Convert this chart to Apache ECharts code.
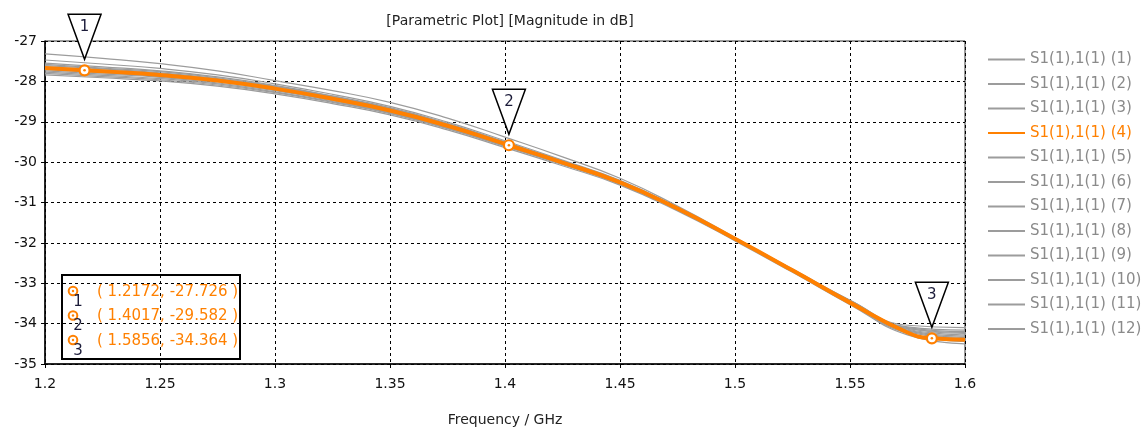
<!DOCTYPE html>
<html>
<head>
<meta charset="utf-8">
<script src="https://cdn.jsdelivr.net/npm/echarts@6/dist/echarts.min.js"></script>
<style>
  html, body { margin: 0; padding: 0; background: #fff; }
  #chart { width: 1148px; height: 432px; }
</style>
</head>
<body>
<div id="chart"></div>
<script>
// Frequency samples (GHz) shared by all sweep curves
const freq = [1.200, 1.225, 1.250, 1.275, 1.300, 1.325, 1.350, 1.375, 1.400,
              1.425, 1.450, 1.475, 1.500, 1.525, 1.550, 1.575, 1.600];

// S1(1),1(1) magnitude in dB for each parameter run
const s1  = [-27.32,-27.43,-27.56,-27.74,-27.98,-28.23,-28.52,-28.91,-29.38,-29.87,-30.40,-31.09,-31.87,-32.66,-33.42,-34.04,-34.10];
const s2  = [-27.47,-27.57,-27.68,-27.84,-28.06,-28.32,-28.62,-29.01,-29.47,-29.95,-30.45,-31.12,-31.88,-32.66,-33.44,-34.12,-34.22];
const s3  = [-27.55,-27.64,-27.74,-27.89,-28.10,-28.36,-28.65,-29.04,-29.50,-29.97,-30.47,-31.13,-31.89,-32.66,-33.43,-34.08,-34.16];
const s4  = [-27.67,-27.75,-27.84,-27.98,-28.18,-28.43,-28.72,-29.10,-29.55,-30.01,-30.50,-31.15,-31.90,-32.68,-33.48,-34.22,-34.40];
const s5  = [-27.58,-27.67,-27.76,-27.91,-28.12,-28.37,-28.67,-29.05,-29.51,-29.98,-30.47,-31.13,-31.88,-32.65,-33.42,-34.10,-34.20];
const s6  = [-27.61,-27.69,-27.79,-27.93,-28.13,-28.39,-28.68,-29.07,-29.52,-29.99,-30.48,-31.14,-31.89,-32.66,-33.44,-34.12,-34.24];
const s7  = [-27.64,-27.72,-27.81,-27.96,-28.16,-28.41,-28.70,-29.09,-29.54,-30.00,-30.50,-31.15,-31.89,-32.67,-33.45,-34.14,-34.28];
const s8  = [-27.71,-27.79,-27.88,-28.01,-28.21,-28.46,-28.74,-29.12,-29.57,-30.02,-30.51,-31.15,-31.90,-32.67,-33.46,-34.16,-34.31];
const s9  = [-27.74,-27.82,-27.90,-28.04,-28.23,-28.48,-28.76,-29.14,-29.58,-30.04,-30.52,-31.17,-31.91,-32.68,-33.47,-34.18,-34.34];
const s10 = [-27.77,-27.85,-27.93,-28.06,-28.26,-28.50,-28.78,-29.16,-29.60,-30.05,-30.54,-31.18,-31.92,-32.69,-33.48,-34.20,-34.37];
const s11 = [-27.80,-27.88,-27.96,-28.09,-28.28,-28.52,-28.80,-29.17,-29.61,-30.06,-30.54,-31.19,-31.93,-32.71,-33.51,-34.24,-34.44];
const s12 = [-27.84,-27.91,-27.99,-28.12,-28.31,-28.55,-28.83,-29.20,-29.64,-30.09,-30.57,-31.21,-31.95,-32.73,-33.53,-34.28,-34.50];

const runs = [s1, s2, s3, s4, s5, s6, s7, s8, s9, s10, s11, s12];
const runNames = runs.map((_, i) => 'S1(1),1(1) (' + (i + 1) + ')');
const highlighted = 3; // run (4) is drawn in orange

// Curve markers placed on run (4)
const markerIds  = ['1', '2', '3'];
const markerFreq = [1.2172, 1.4017, 1.5856];
const markerVal  = [-27.726, -29.582, -34.364];

// Axis ticks
const xTicks = { min: 1.2, max: 1.6, step: 0.05 };
const yTicks = { min: -35, max: -27, step: 1 };

const ORANGE = '#ff8000';
const GRAY = '#9c9c9c';
const FONT = 'DejaVu Sans';

function pairs(values, extra) {
  const pts = freq.map((f, i) => [f, values[i]]);
  if (extra) {
    extra.forEach(p => pts.push(p));
    pts.sort((a, b) => a[0] - b[0]);
  }
  return pts;
}

const markerPairs = markerFreq.map((f, i) => [f, markerVal[i]]);

const lineSeries = runs.map((vals, i) => ({
  name: runNames[i],
  type: 'line',
  data: pairs(vals, i === highlighted ? markerPairs : null),
  symbol: 'none',
  smooth: 0.5,
  z: i === highlighted ? 4 : 2,
  lineStyle: {
    color: i === highlighted ? ORANGE : GRAY,
    width: i === highlighted ? 4 : 1.2
  },
  itemStyle: { color: i === highlighted ? ORANGE : GRAY },
  emphasis: { disabled: true },
  silent: true
}));

// Marker flags: a downward triangle with the marker number and a ring on the curve
const markerSeries = {
  type: 'custom',
  z: 10,
  silent: true,
  clip: false,
  data: markerFreq.map((f, i) => [f, markerVal[i], i]),
  renderItem: function (params, api) {
    const p = api.coord([api.value(0), api.value(1)]);
    const id = markerIds[api.value(2)];
    return {
      type: 'group',
      children: [
        {
          type: 'polygon',
          shape: { points: [[p[0] - 16.5, p[1] - 56], [p[0] + 16.5, p[1] - 56], [p[0], p[1] - 11]] },
          style: { fill: '#fff', stroke: '#000', lineWidth: 1.5 }
        },
        {
          type: 'text',
          style: {
            text: id, x: p[0], y: p[1] - 43, align: 'center', verticalAlign: 'middle',
            fill: '#1c1c3a', font: '15px "' + FONT + '"'
          }
        },
        { type: 'circle', shape: { cx: p[0], cy: p[1], r: 5 }, style: { fill: '#fff', stroke: ORANGE, lineWidth: 2.2 } },
        { type: 'circle', shape: { cx: p[0], cy: p[1], r: 1.3 }, style: { fill: ORANGE } }
      ]
    };
  }
};

// Marker readout box
const box = { left: 62, top: 275, width: 178, height: 84, rowTop: 292, rowGap: 24.5 };
const boxChildren = [{
  type: 'rect',
  shape: { x: box.left, y: box.top, width: box.width, height: box.height },
  style: { fill: '#fff', stroke: '#000', lineWidth: 2 }
}];
markerFreq.forEach((f, i) => {
  const y = box.rowTop + i * box.rowGap;
  boxChildren.push(
    { type: 'circle', shape: { cx: box.left + 11, cy: y - 1, r: 4.3 }, style: { fill: '#fff', stroke: ORANGE, lineWidth: 2 } },
    { type: 'circle', shape: { cx: box.left + 11, cy: y - 1, r: 1.2 }, style: { fill: ORANGE } },
    { type: 'text', style: { text: markerIds[i], x: box.left + 16, y: y + 10, align: 'center', verticalAlign: 'middle', fill: '#1c1c3a', font: '15px "' + FONT + '"' } },
    { type: 'text', style: { text: '( ' + f.toFixed(4) + ', ' + markerVal[i].toFixed(3) + ' )', x: box.left + 35, y: y, align: 'left', verticalAlign: 'middle', fill: ORANGE, font: '15px "' + FONT + '"' } }
  );
});

const chart = echarts.init(document.getElementById('chart'), null, { renderer: 'canvas' });

chart.setOption({
  animation: false,
  backgroundColor: '#fff',
  textStyle: { fontFamily: FONT },
  title: {
    text: '[Parametric Plot] [Magnitude in dB]',
    left: 505, top: 9, textAlign: 'center',
    textStyle: { fontFamily: FONT, fontSize: 14, fontWeight: 'normal', color: '#222' }
  },
  grid: {
    left: 45, right: 183, top: 41, bottom: 57,
    show: true, borderColor: '#333', borderWidth: 1, backgroundColor: 'transparent'
  },
  legend: {
    orient: 'vertical',
    left: 982, top: 47,
    itemWidth: 37, itemHeight: 14, itemGap: 9.5,
    selectedMode: false,
    itemStyle: { opacity: 0 },
    data: runNames.map((n, i) => ({
      name: n,
      textStyle: { color: i === highlighted ? ORANGE : '#8a8a8a' }
    })),
    textStyle: { fontFamily: FONT, fontSize: 15 }
  },
  xAxis: {
    type: 'value',
    min: xTicks.min, max: xTicks.max, interval: xTicks.step,
    name: 'Frequency / GHz', nameLocation: 'middle', nameGap: 49,
    nameTextStyle: { fontFamily: FONT, fontSize: 14, color: '#222' },
    axisLine: { show: true, onZero: false, lineStyle: { color: '#000', width: 1.5 } },
    axisTick: { show: true, inside: false, length: 4, lineStyle: { color: '#000' } },
    axisLabel: {
      margin: 13, color: '#111', fontFamily: FONT, fontSize: 14,
      formatter: v => String(+v.toFixed(2))
    },
    splitLine: { show: true, lineStyle: { color: '#000', type: [3, 3], width: 1 } }
  },
  yAxis: {
    type: 'value',
    min: yTicks.min, max: yTicks.max, interval: yTicks.step,
    axisLine: { show: true, onZero: false, lineStyle: { color: '#000', width: 1.5 } },
    axisTick: { show: true, inside: false, length: 4, lineStyle: { color: '#000' } },
    axisLabel: {
      margin: 8, color: '#111', fontFamily: FONT, fontSize: 14,
      formatter: v => String(Math.round(v))
    },
    splitLine: { show: true, lineStyle: { color: '#000', type: [3, 3], width: 1 } }
  },
  graphic: [{ type: 'group', z: 100, children: boxChildren }],
  series: lineSeries.concat([markerSeries])
});
</script>
</body>
</html>
